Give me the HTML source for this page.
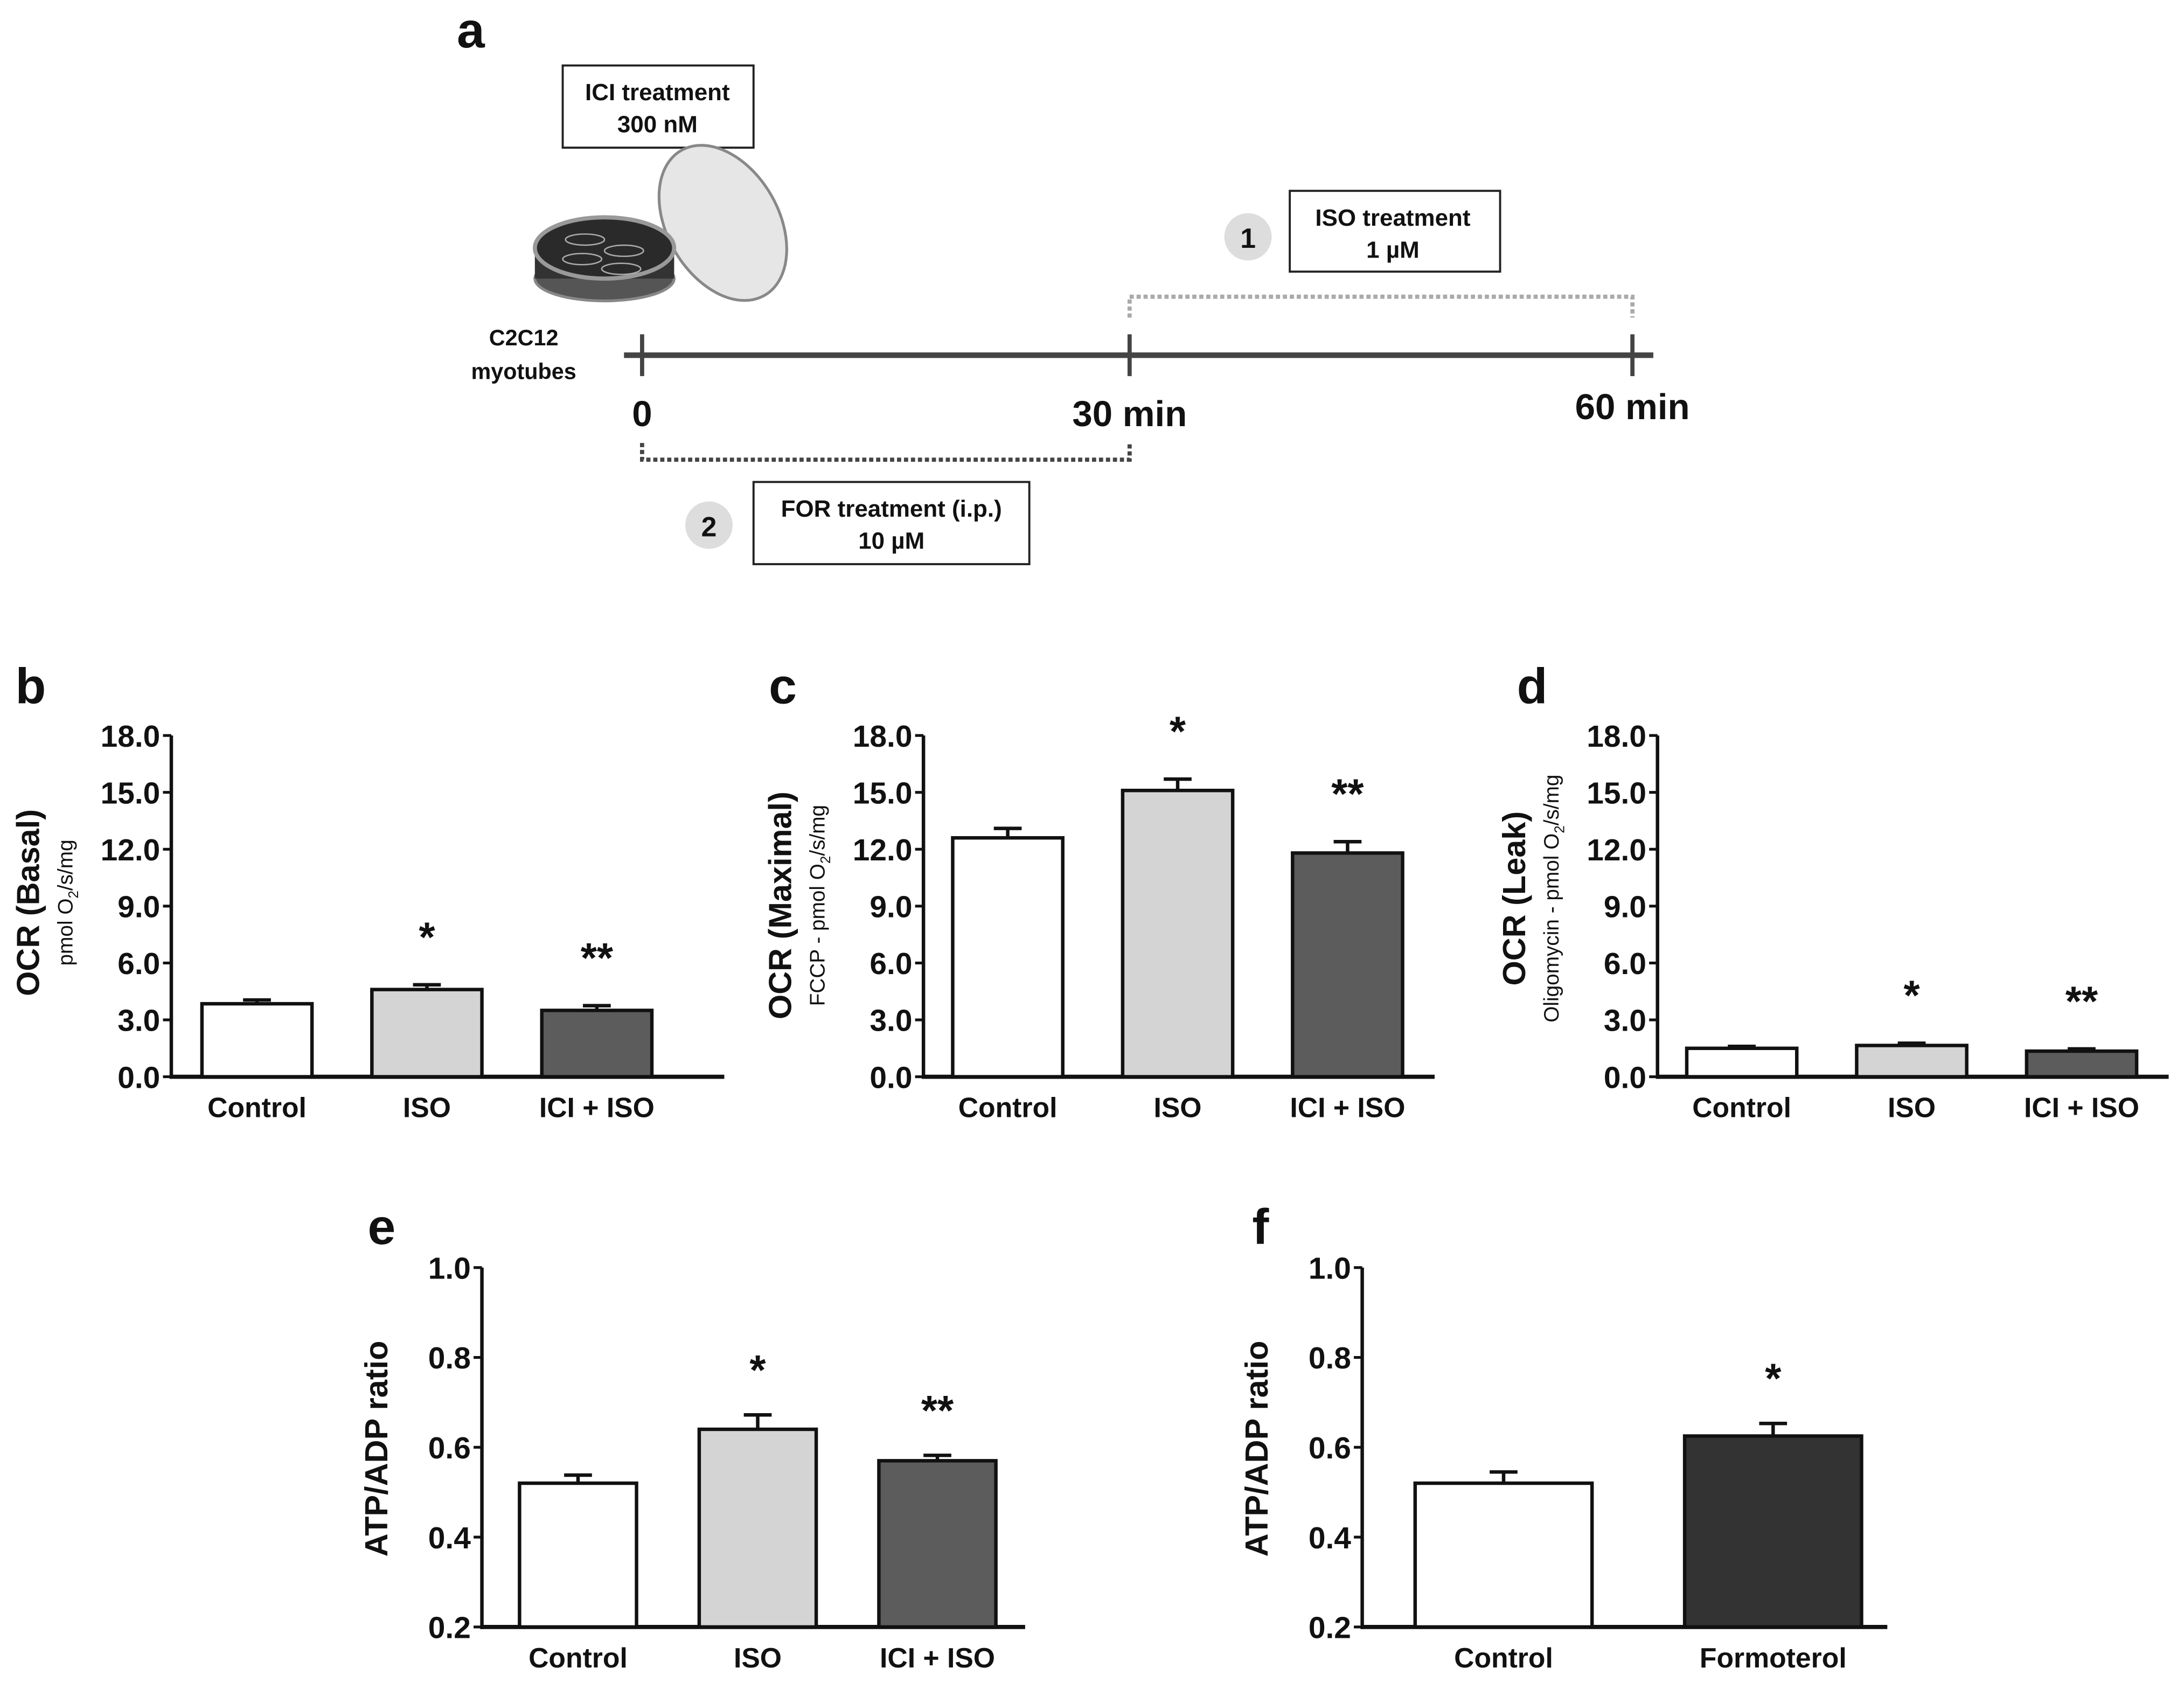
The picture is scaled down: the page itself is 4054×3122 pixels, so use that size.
<!DOCTYPE html>
<html><head><meta charset="utf-8">
<style>
html,body{margin:0;padding:0;background:#fff;}
svg{display:block;}
text{font-family:"Liberation Sans Narrow","Liberation Sans",sans-serif;font-weight:bold;fill:#111;}
.wide{font-family:"Liberation Sans",sans-serif;}
</style></head>
<body>
<svg id="fig" width="4054" height="3122" viewBox="0 0 1568 1207.5" xmlns="http://www.w3.org/2000/svg">
<g id="panelA">
  <text class="wide" x="338" y="34" font-size="36" text-anchor="middle">a</text>
  <rect x="404" y="47" width="137" height="59" fill="#fff" stroke="#222" stroke-width="1.5"/>
  <text x="472" y="72" font-size="17" text-anchor="middle">ICI treatment</text>
  <text x="472" y="95" font-size="17" text-anchor="middle">300 nM</text>
  <g>
    <ellipse cx="519" cy="160" rx="40" ry="60" transform="rotate(-30 519 160)" fill="#e6e6e6" stroke="#888" stroke-width="2"/>
    <ellipse cx="434" cy="200" rx="50" ry="16" fill="#555" stroke="#888" stroke-width="2"/>
    <rect x="384" y="178" width="100" height="22" fill="#333"/>
    <ellipse cx="434" cy="178" rx="50" ry="22" fill="#2a2a2a" stroke="#999" stroke-width="3"/>
    <ellipse cx="420" cy="172" rx="14" ry="4" fill="none" stroke="#aaa"/>
    <ellipse cx="448" cy="180" rx="14" ry="4" fill="none" stroke="#aaa"/>
    <ellipse cx="418" cy="186" rx="14" ry="4" fill="none" stroke="#aaa"/>
    <ellipse cx="446" cy="193" rx="14" ry="4" fill="none" stroke="#aaa"/>
  </g>
  <text x="376" y="248" font-size="16" text-anchor="middle">C2C12</text>
  <text x="376" y="272" font-size="16" text-anchor="middle">myotubes</text>
  <line x1="448" y1="255" x2="1187" y2="255" stroke="#444" stroke-width="4"/>
  <line x1="461" y1="240" x2="461" y2="270" stroke="#444" stroke-width="3"/>
  <line x1="811" y1="240" x2="811" y2="270" stroke="#444" stroke-width="3"/>
  <line x1="1172" y1="240" x2="1172" y2="270" stroke="#444" stroke-width="3"/>
  <text x="461" y="306" font-size="26" text-anchor="middle">0</text>
  <text x="811" y="306" font-size="26" text-anchor="middle">30 min</text>
  <text x="1172" y="301" font-size="26" text-anchor="middle">60 min</text>
  <path d="M811 228 V213 H1172 V228" fill="none" stroke="#aaa" stroke-width="3" stroke-dasharray="3 2"/>
  <path d="M461 318 V330 H811 V318" fill="none" stroke="#444" stroke-width="3" stroke-dasharray="3 2"/>
  <circle cx="896" cy="170" r="17" fill="#ddd"/>
  <text x="896" y="178" font-size="20" text-anchor="middle">1</text>
  <rect x="926" y="137" width="151" height="58" fill="#fff" stroke="#222" stroke-width="1.5"/>
  <text x="1000" y="162" font-size="17" text-anchor="middle">ISO treatment</text>
  <text x="1000" y="185" font-size="17" text-anchor="middle">1 µM</text>
  <circle cx="509" cy="377" r="17" fill="#ddd"/>
  <text x="509" y="385" font-size="20" text-anchor="middle">2</text>
  <rect x="541" y="346" width="198" height="59" fill="#fff" stroke="#222" stroke-width="1.5"/>
  <text x="640" y="371" font-size="17" text-anchor="middle">FOR treatment (i.p.)</text>
  <text x="640" y="394" font-size="17" text-anchor="middle">10 µM</text>
</g>
<g id="charts"></g>
</svg>
<script>
// Panel b: basal OCR
const bCategories = ["Control", "ISO", "ICI + ISO"];
const bValues = [3.85, 4.6, 3.5];
const bErrors = [0.2, 0.25, 0.25];
const bStars = ["", "*", "**"];
// Panel c: maximal OCR
const cCategories = ["Control", "ISO", "ICI + ISO"];
const cValues = [12.6, 15.1, 11.8];
const cErrors = [0.5, 0.6, 0.6];
const cStars = ["", "*", "**"];
// Panel d: leak OCR
const dCategories = ["Control", "ISO", "ICI + ISO"];
const dValues = [1.5, 1.65, 1.35];
const dErrors = [0.1, 0.12, 0.12];
const dStars = ["", "*", "**"];
// Panel e: ATP/ADP
const eCategories = ["Control", "ISO", "ICI + ISO"];
const eValues = [0.52, 0.64, 0.57];
const eErrors = [0.018, 0.032, 0.012];
const eStars = ["", "*", "**"];
// Panel f: ATP/ADP formoterol
const fCategories = ["Control", "Formoterol"];
const fValues = [0.52, 0.625];
const fErrors = [0.025, 0.028];
const fStars = ["", "*"];
const ocrTicks = ["0.0", "3.0", "6.0", "9.0", "12.0", "15.0", "18.0"];
const ratioTicks = ["0.2", "0.4", "0.6", "0.8", "1.0"];

const NS = "http://www.w3.org/2000/svg";
const root = document.getElementById("charts");
function mk(tag, attrs, parent, txt) {
  const e = document.createElementNS(NS, tag);
  for (const k in attrs) e.setAttribute(k, attrs[k]);
  if (txt !== undefined) e.textContent = txt;
  parent.appendChild(e);
  return e;
}
function chart(cfg) {
  const g = mk("g", {}, root);
  
  
  const y = v => cfg.y0 - (v - cfg.min) / (cfg.max - cfg.min) * (cfg.y0 - cfg.y1);
  const lbl = mk("text", {x: cfg.lx, y: cfg.ly, "font-size": 36, class: "wide", "text-anchor": "middle"}, g, cfg.letter);
  
  
  const ya = mk("line", {x1: cfg.ax, y1: cfg.y1, x2: cfg.ax, y2: cfg.y0 + 1.5, stroke: "#111", "stroke-width": 2.5}, g);
  
  
  const xa = mk("line", {x1: cfg.ax - 1, y1: cfg.y0, x2: cfg.xEnd, y2: cfg.y0, stroke: "#111", "stroke-width": 3}, g);
  
  
  cfg.ticks.forEach(t => {
    const v = parseFloat(t), ty = y(v);
    const tl = mk("line", {x1: cfg.ax - 6, y1: ty, x2: cfg.ax, y2: ty, stroke: "#111", "stroke-width": 2}, g);
    
    
    const tt = mk("text", {x: cfg.ax - 8, y: ty + 8, "font-size": 22, "text-anchor": "end"}, g, t);
    
    
  });
  cfg.cats.forEach((c, i) => {
    const cx = cfg.c0 + i * cfg.step, w = cfg.bw;
    const top = y(cfg.vals[i]), et = y(cfg.vals[i] + cfg.errs[i]);
    const el = mk("line", {x1: cx, y1: top, x2: cx, y2: et, stroke: "#111", "stroke-width": 2.5}, g);
    
    
    const ec = mk("line", {x1: cx - 10, y1: et, x2: cx + 10, y2: et, stroke: "#111", "stroke-width": 2.5}, g);
    
    
    const r = mk("rect", {x: cx - w / 2, y: top, width: w, height: cfg.y0 - top, fill: cfg.fills[i], stroke: "#111", "stroke-width": 2.5}, g);
    
    
    const xl = mk("text", {x: cx, y: cfg.y0 + 29, "font-size": 20, "text-anchor": "middle"}, g, c);
    
    
    if (cfg.stars[i]) {
      const s = mk("text", {x: cx, y: et - cfg.starGap, "font-size": 30, class: "wide", "text-anchor": "middle"}, g, cfg.stars[i]);
      
      
    }
  });
  const yt = mk("text", {x: 0, y: 0, "font-size": 23, class: "wide", "text-anchor": "middle", transform: `translate(${cfg.tx},${cfg.ty}) rotate(-90)`}, g, cfg.title);
  
  
  if (cfg.sub !== undefined) {
    const st = mk("text", {x: 0, y: 0, "font-size": 15, class: "wide", "text-anchor": "middle", transform: `translate(${cfg.tx + 24},${cfg.ty}) rotate(-90)`}, g);
    st.setAttribute('style', 'font-weight:normal');
    
    
    mk("tspan", {}, st, cfg.sub + "pmol O");
    mk("tspan", {"font-size": 10, dy: 4}, st, "2");
    mk("tspan", {dy: -4}, st, "/s/mg");
  }
}
const grey3 = ["#fff", "#d4d4d4", "#5c5c5c"];
chart({name: "panel-b-basal-ocr", letter: "b", lx: 22, ly: 505, ax: 123, y0: 773, y1: 528, xEnd: 520, min: 0, max: 18, ticks: ocrTicks,
  cats: bCategories, vals: bValues, errs: bErrors, stars: bStars, fills: grey3, c0: 184.5, step: 122, bw: 79, starGap: 24,
  title: "OCR (Basal)", sub: "", tx: 28, ty: 648});
chart({name: "panel-c-maximal-ocr", letter: "c", lx: 562, ly: 505, ax: 663, y0: 773, y1: 528, xEnd: 1030, min: 0, max: 18, ticks: ocrTicks,
  cats: cCategories, vals: cValues, errs: cErrors, stars: cStars, fills: grey3, c0: 723.5, step: 122, bw: 79, starGap: 24,
  title: "OCR (Maximal)", sub: "FCCP - ", tx: 568, ty: 650});
chart({name: "panel-d-leak-ocr", letter: "d", lx: 1100, ly: 505, ax: 1190, y0: 773, y1: 528, xEnd: 1557, min: 0, max: 18, ticks: ocrTicks,
  cats: dCategories, vals: dValues, errs: dErrors, stars: dStars, fills: grey3, c0: 1250.5, step: 122, bw: 79, starGap: 24,
  title: "OCR (Leak)", sub: "Oligomycin - ", tx: 1095, ty: 645});
chart({name: "panel-e-atp-adp", letter: "e", lx: 274, ly: 893, ax: 346, y0: 1168, y1: 910, xEnd: 736, min: 0.2, max: 1.0, ticks: ratioTicks,
  cats: eCategories, vals: eValues, errs: eErrors, stars: eStars, fills: grey3, c0: 415, step: 129, bw: 84, starGap: 22,
  title: "ATP/ADP ratio", tx: 278, ty: 1040});
chart({name: "panel-f-atp-adp-formoterol", letter: "f", lx: 905, ly: 893, ax: 978, y0: 1168, y1: 910, xEnd: 1355, min: 0.2, max: 1.0, ticks: ratioTicks,
  cats: fCategories, vals: fValues, errs: fErrors, stars: fStars, fills: ["#fff", "#333"], c0: 1079.5, step: 193.5, bw: 127, starGap: 22,
  title: "ATP/ADP ratio", tx: 910, ty: 1040});
</script>
</body></html>
